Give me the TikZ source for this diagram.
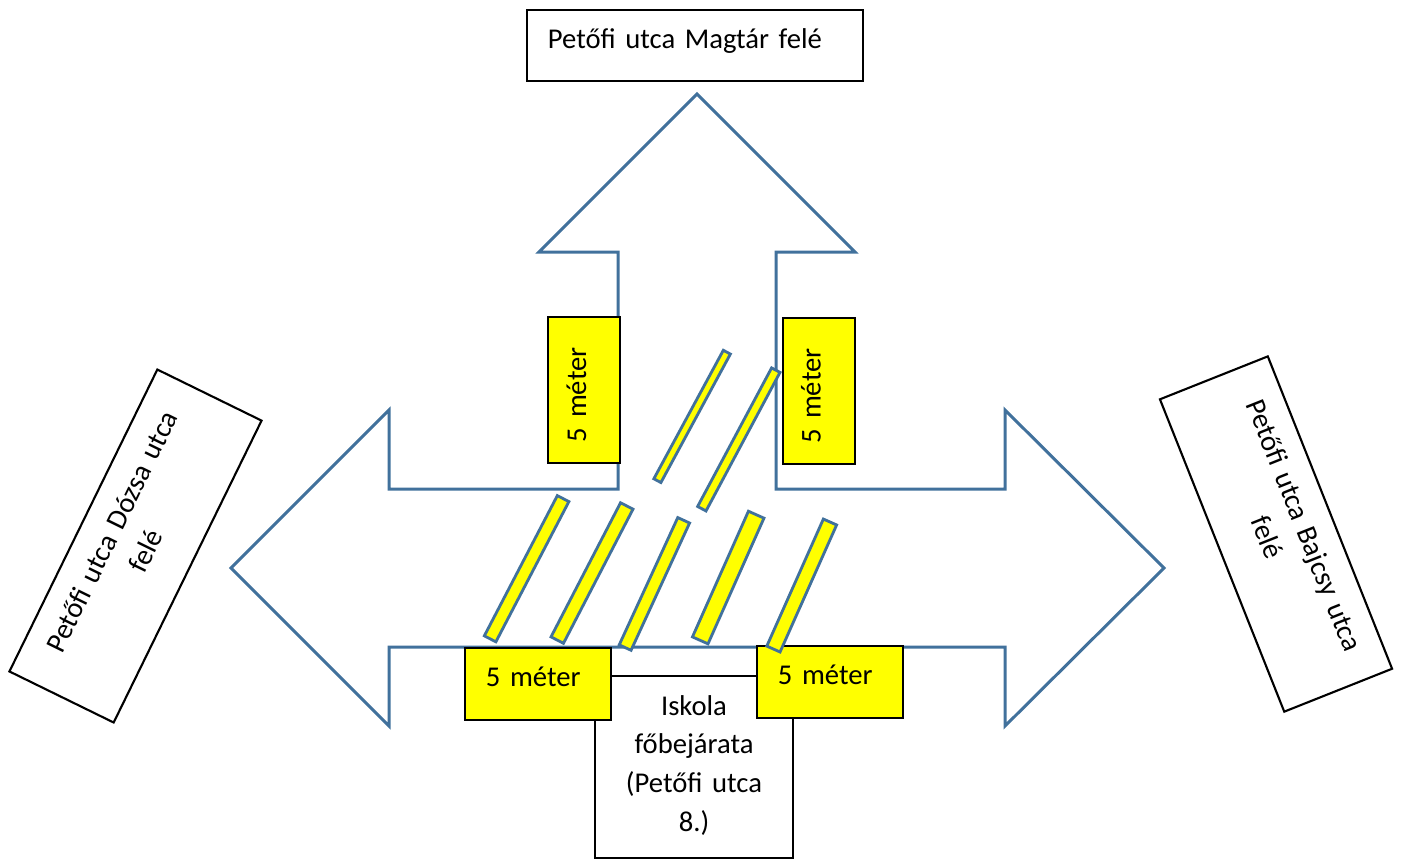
\documentclass[tikz,border=0pt]{standalone}
\usepackage{fontspec}
\setmainfont[WordSpace=0.8]{Carlito}
\definecolor{roadblue}{HTML}{41719C}
\definecolor{zebrayellow}{HTML}{FFFF00}
\tikzset{
    wordbox/.style={draw=black, fill=white, line width=0.6pt, inner sep=0, font=\fontsize{8.15}{11}\selectfont},
    meterbox/.style={wordbox, fill=zebrayellow, minimum width=1.46cm, minimum height=0.72cm, text width=1.04cm, align=left, text height=0.24cm, text depth=0.2cm},
    sidebox/.style={wordbox, minimum width=3.36cm, minimum height=1.16cm, text width=2.94cm, align=center, text height=0.2cm},
    stripe/.style={draw=roadblue, fill=zebrayellow, line width=0.8pt, inner sep=0},
}
\begin{document}
\begin{tikzpicture}[x=0.01cm, y=-0.01cm]
    \useasboundingbox (0,0) rectangle (1404,859);
    % school entrance
    \node[wordbox, minimum width=1.98cm, minimum height=1.82cm, text width=1.7cm, align=center, text height=0.2cm, text depth=1.24cm] (iskola) at (694,767)
        {Iskola\\főbejárata\\(Petőfi utca\\8.)};
    % the three streets
    \draw[roadblue, line width=0.85pt, fill=white] (697,94) -- (855,252) -- (776,252) -- (776,489) -- (1005,489) -- (1005,410)
        -- (1164,568) -- (1005,726) -- (1005,647) -- (389,647) -- (389,726) -- (231,568) -- (389,410) -- (389,489)
        -- (618,489) -- (618,252) -- (539,252) -- cycle;
    % direction labels
    \node[wordbox, minimum width=3.36cm, minimum height=0.71cm, text width=2.94cm, align=left, text height=0.24cm, text depth=0.19cm] (magtar) at (695,45.5)
        {Petőfi utca Magtár felé};
    \node[sidebox, rotate=63.9, text depth=0.56cm] (dozsa) at (135.5,546)
        {\hspace*{0.05cm}Petőfi utca Dózsa utca\\felé};
    \node[sidebox, rotate=-68.3, text depth=0.6cm] (bajcsy) at (1276,534)
        {\hspace*{0.05cm}Petőfi utca Bajcsy utca\\felé};
    % distance boxes
    \node[meterbox, rotate=90] (meterNW) at (584,390) {5 méter};
    \node[meterbox, rotate=90] (meterNE) at (818.7,391) {5 méter};
    \node[meterbox] (meterSW) at (538,684) {5 méter};
    \node[meterbox] (meterSE) at (830,682) {5 méter};
    % zebra crossings
    \node[stripe, rotate=62.5, minimum width=1.58cm, minimum height=0.13cm] (zebraA) at (526.6,568.7) {};
    \node[stripe, rotate=62.6, minimum width=1.51cm, minimum height=0.14cm] (zebraB) at (592,573) {};
    \node[stripe, rotate=65.3, minimum width=1.40cm, minimum height=0.13cm] (zebraC) at (654.4,583.9) {};
    \node[stripe, rotate=66, minimum width=1.375cm, minimum height=0.17cm] (zebraD) at (728.2,577.5) {};
    \node[stripe, rotate=66, minimum width=1.39cm, minimum height=0.145cm] (zebraE) at (801.7,585.5) {};
    \node[stripe, rotate=61.6, minimum width=1.46cm, minimum height=0.08cm] (zebraF) at (692.1,416.4) {};
    \node[stripe, rotate=61.9, minimum width=1.57cm, minimum height=0.095cm] (zebraG) at (738.8,439.4) {};
\end{tikzpicture}
\end{document}
